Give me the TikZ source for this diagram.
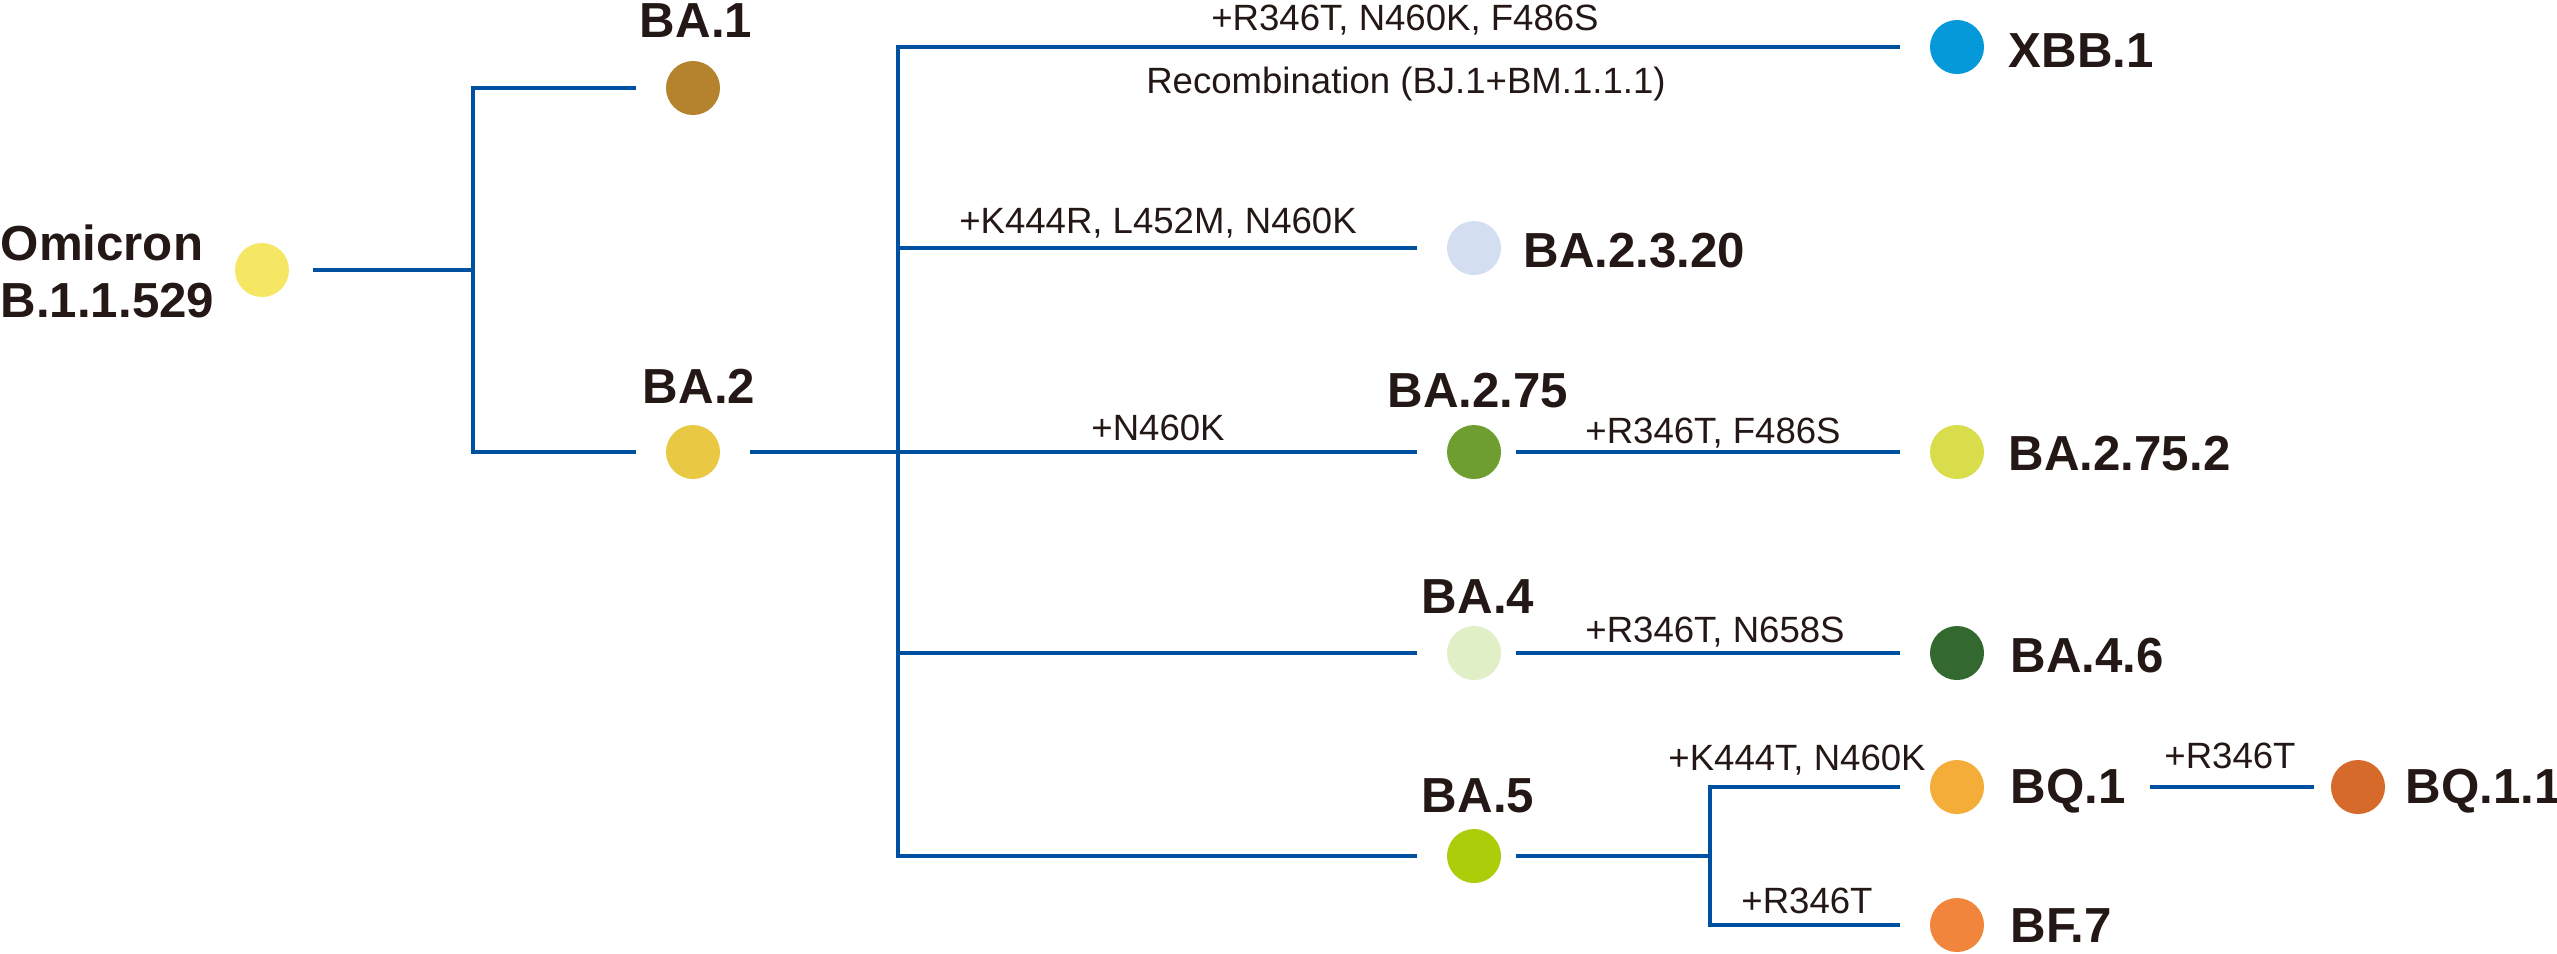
\documentclass[tikz,border=0pt]{standalone}
\usepackage{fontspec}
\setmainfont{Liberation Sans}

\definecolor{branchblue}{HTML}{0050A2}
\definecolor{inkblack}{HTML}{231815}
\definecolor{cOmicron}{HTML}{F5E663}
\definecolor{cBAone}{HTML}{B5832E}
\definecolor{cBAtwo}{HTML}{E9C944}
\definecolor{cXBB}{HTML}{0599D9}
\definecolor{cBAtwothree}{HTML}{D3DEF1}
\definecolor{cBAtwoseventyfive}{HTML}{6F9E30}
\definecolor{cBAtwoseventyfivetwo}{HTML}{D9DD4B}
\definecolor{cBAfour}{HTML}{E1EFC7}
\definecolor{cBAfoursix}{HTML}{33682F}
\definecolor{cBAfive}{HTML}{ABCD0A}
\definecolor{cBQone}{HTML}{F5AD3A}
\definecolor{cBQoneone}{HTML}{D56A2A}
\definecolor{cBFseven}{HTML}{F0853B}

\begin{document}
\begin{tikzpicture}[
    x=0.01cm, y=-0.01cm,
    branch/.style={draw=branchblue, line width=0.95pt},
    closeout/.style={shorten <=-1.5mm},
    variant/.style={circle, fill=#1, inner sep=0pt, minimum size=5.4mm, outer sep=3mm},
    lineage/.style={font=\fontsize{14}{16.2}\selectfont\bfseries, text=inkblack, inner sep=0pt},
    mutation/.style={font=\fontsize{10.4}{12}\selectfont, text=inkblack, inner sep=0pt, anchor=base}
]
  \useasboundingbox (0,0) rectangle (2557,953);

  % variants
  \node[variant=cOmicron] (omi) at (262,270) {};
  \node[variant=cBAone] (ba1) at (693,88) {};
  \node[variant=cBAtwo] (ba2) at (693,452) {};
  \node[variant=cXBB] (xbb) at (1957,47) {};
  \node[variant=cBAtwothree] (ba2320) at (1474,248) {};
  \node[variant=cBAtwoseventyfive] (ba275) at (1474,452) {};
  \node[variant=cBAtwoseventyfivetwo] (ba2752) at (1957,452) {};
  \node[variant=cBAfour] (ba4) at (1474,653) {};
  \node[variant=cBAfoursix] (ba46) at (1957,653) {};
  \node[variant=cBAfive] (ba5) at (1474,856) {};
  \node[variant=cBQone] (bq1) at (1957,787) {};
  \node[variant=cBQoneone] (bq11) at (2358,787) {};
  \node[variant=cBFseven] (bf7) at (1957,925) {};

  % names
  \node[lineage, anchor=base west, align=left] (omil) at (0,317) {Omicron\\B.1.1.529};
  \node[lineage, anchor=base] (ba1l) at (696,37) {BA.1};
  \node[lineage, anchor=base] (ba2l) at (699,403) {BA.2};
  \node[lineage, anchor=base west] (xbbl) at (2008,67) {XBB.1};
  \node[lineage, anchor=base west] (ba2320l) at (1523,267) {BA.2.3.20};
  \node[lineage, anchor=base] (ba275l) at (1478,407) {BA.2.75};
  \node[lineage, anchor=base west] (ba2752l) at (2008,470) {BA.2.75.2};
  \node[lineage, anchor=base] (ba4l) at (1478,613) {BA.4};
  \node[lineage, anchor=base west] (ba46l) at (2010,672) {BA.4.6};
  \node[lineage, anchor=base] (ba5l) at (1478,812) {BA.5};
  \node[lineage, anchor=base west] (bq1l) at (2010,803) {BQ.1};
  \node[lineage, anchor=base west] (bq11l) at (2405,803) {BQ.1.1};
  \node[lineage, anchor=base west] (bf7l) at (2010,942) {BF.7};

  % junctions
  \coordinate (j0) at (473,270);
  \coordinate (j2) at (898,452);
  \coordinate (j5) at (1710,856);

  % branches
  \draw[branch, shorten <=-0.6mm] (omi) -- (j0);
  \draw[branch] (j0) |- (ba1);
  \draw[branch] (j0) |- (ba2);
  \draw[branch] (ba2) -- (j2);
  \draw[branch] (j2) |- (xbb);
  \draw[branch] (j2) |- (ba2320);
  \draw[branch] (j2) -- (ba275);
  \draw[branch] (j2) |- (ba4);
  \draw[branch] (j2) |- (ba5);
  \draw[branch, closeout] (ba275) -- (ba2752);
  \draw[branch, closeout] (ba4) -- (ba46);
  \draw[branch, closeout] (ba5) -- (j5);
  \draw[branch] (j5) |- (bq1);
  \draw[branch] (j5) |- (bf7);
  \draw[branch] ([xshift=2.4mm]bq1l.east |- bq1) -- ([xshift=1.3mm]bq11.west);

  % mutations
  \node[mutation] (mxbb) at (1405,30) {+R346T, N460K, F486S};
  \node[mutation] (mrec) at (1406,93) {Recombination (BJ.1+BM.1.1.1)};
  \node[mutation] (m2320) at (1158,233) {+K444R, L452M, N460K};
  \node[mutation] (m275) at (1158,440) {+N460K};
  \node[mutation] (m2752) at (1713,443) {+R346T, F486S};
  \node[mutation] (m46) at (1715,642) {+R346T, N658S};
  \node[mutation] (mbq1) at (1797,770) {+K444T, N460K};
  \node[mutation] (mbq11) at (2230,768) {+R346T};
  \node[mutation] (mbf7) at (1807,913) {+R346T};
\end{tikzpicture}
\end{document}
